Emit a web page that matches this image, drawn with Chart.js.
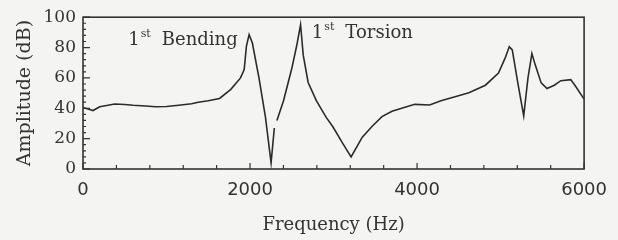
<!DOCTYPE html>
<html>
<head>
<meta charset="utf-8">
<script src="https://cdn.jsdelivr.net/npm/chart.js@4/dist/chart.umd.min.js"></script>
<style>
  html, body { margin: 0; padding: 0; background: #f4f4f2; }
</style>
</head>
<body>
<canvas id="chart" width="618" height="240"></canvas>
<script>
// frequency response (null = break in the trace)
const freqHz = [0, 60, 120, 200, 300, 380, 500, 600, 750, 870, 1000, 1145, 1300, 1380, 1500,
  1635, 1770, 1886, 1930, 1957, 1989, 2028, 2107, 2185, 2252, 2291, 2306, 2322, 2401, 2499,
  2558, 2605, 2637, 2696, 2794, 2912, 2990, 3108, 3210, 3344, 3460, 3580, 3700, 3816, 3973,
  4150, 4287, 4444, 4621, 4818, 4975, 5054, 5104, 5140, 5210, 5277, 5328, 5375, 5415, 5486,
  5556, 5643, 5722, 5840, 5898, 6000];
const amplitudeDb = [40.5, 39.5, 38.5, 41, 42, 42.8, 42.5, 42, 41.5, 41, 41.2, 42, 43, 44, 45,
  46.5, 52.5, 60, 65.5, 81, 88.5, 83, 60, 34, 4, 27, null, 32, 45, 66,
  81, 95, 75, 57, 45, 34, 28, 17, 8, 21, 28, 34.5, 38, 40, 42.6,
  42.2, 45, 47.5, 50.2, 55.2, 63.2, 73, 80.5, 78.4, 55.6, 35, 60, 76, 68.6, 56.7,
  53, 55.2, 58.2, 58.9, 54.5, 46];

// mode annotations: name, anchor frequency, anchor amplitude
const modeNames = ['Bending', 'Torsion'];
const modeFreq = [542, 2740];
const modeDb = [82, 86];

const xMajor = 2000;
const yMajor = 20;
const ink = '#333';

const points = freqHz.map((f, i) => ({ x: f, y: amplitudeDb[i] }));

// box frame, inward tick marks and the mode labels
const frameAndTicks = {
  id: 'frameAndTicks',
  afterDatasetsDraw(chart) {
    const { ctx, chartArea: a, scales } = chart;
    ctx.save();
    ctx.strokeStyle = ink;
    ctx.lineWidth = 1.6;
    ctx.strokeRect(a.left, a.top, a.right - a.left, a.bottom - a.top);

    ctx.lineWidth = 1.2;
    ctx.beginPath();
    scales.x.ticks.forEach(t => {
      const px = scales.x.getPixelForValue(t.value);
      const len = Math.round(t.value) % xMajor === 0 ? 6 : 4;
      ctx.moveTo(px, a.bottom);
      ctx.lineTo(px, a.bottom - len);
    });
    scales.y.ticks.forEach(t => {
      const py = scales.y.getPixelForValue(t.value);
      const len = Math.round(t.value) % yMajor === 0 ? 7 : 3;
      ctx.moveTo(a.left, py);
      ctx.lineTo(a.left + len, py);
    });
    ctx.stroke();

    ctx.fillStyle = ink;
    ctx.textBaseline = 'alphabetic';
    modeNames.forEach((name, i) => {
      let x = scales.x.getPixelForValue(modeFreq[i]);
      const y = scales.y.getPixelForValue(modeDb[i]);
      ctx.font = '18px "DejaVu Serif"';
      ctx.fillText('1', x, y);
      x += ctx.measureText('1').width + 1;
      ctx.font = '11px "DejaVu Serif"';
      ctx.fillText('st', x, y - 8);
      x += ctx.measureText('st').width;
      ctx.font = '18px "DejaVu Serif"';
      ctx.fillText(name, x + 11, y);
    });
    ctx.restore();
  }
};

new Chart(document.getElementById('chart'), {
  type: 'line',
  data: {
    datasets: [{
      data: points,
      borderColor: '#2b2b2b',
      borderWidth: 1.6,
      pointRadius: 0,
      tension: 0,
      spanGaps: false,
      fill: false
    }]
  },
  options: {
    responsive: false,
    animation: false,
    devicePixelRatio: 1,
    layout: { padding: { top: 15, right: 26, left: 0, bottom: 0 } },
    plugins: { legend: { display: false }, tooltip: { enabled: false } },
    scales: {
      x: {
        type: 'linear',
        min: 0,
        max: 6000,
        grid: { display: false, drawTicks: false },
        border: { display: false },
        ticks: {
          stepSize: 400,
          autoSkip: false,
          maxRotation: 0,
          padding: 11,
          color: ink,
          font: { family: 'DejaVu Sans', size: 18 },
          callback: v => Math.round(v) % xMajor === 0 ? String(Math.round(v)) : ''
        },
        title: {
          display: true,
          text: 'Frequency (Hz)',
          color: ink,
          font: { family: 'DejaVu Serif', size: 18 },
          padding: { top: 0, bottom: 4 }
        },
        afterFit: s => { s.height = 71; }
      },
      y: {
        min: 0,
        max: 100,
        grid: { display: false, drawTicks: false },
        border: { display: false },
        ticks: {
          stepSize: 4,
          autoSkip: false,
          padding: 7,
          color: ink,
          font: { family: 'DejaVu Serif', size: 17 },
          callback: v => Math.round(v) % yMajor === 0 ? String(Math.round(v)) : ''
        },
        title: {
          display: true,
          text: 'Amplitude (dB)',
          color: ink,
          font: { family: 'DejaVu Serif', size: 19 },
          padding: { top: 14, bottom: 0 }
        },
        afterFit: s => { s.width = 83; }
      }
    }
  },
  plugins: [frameAndTicks]
});
</script>
</body>
</html>
